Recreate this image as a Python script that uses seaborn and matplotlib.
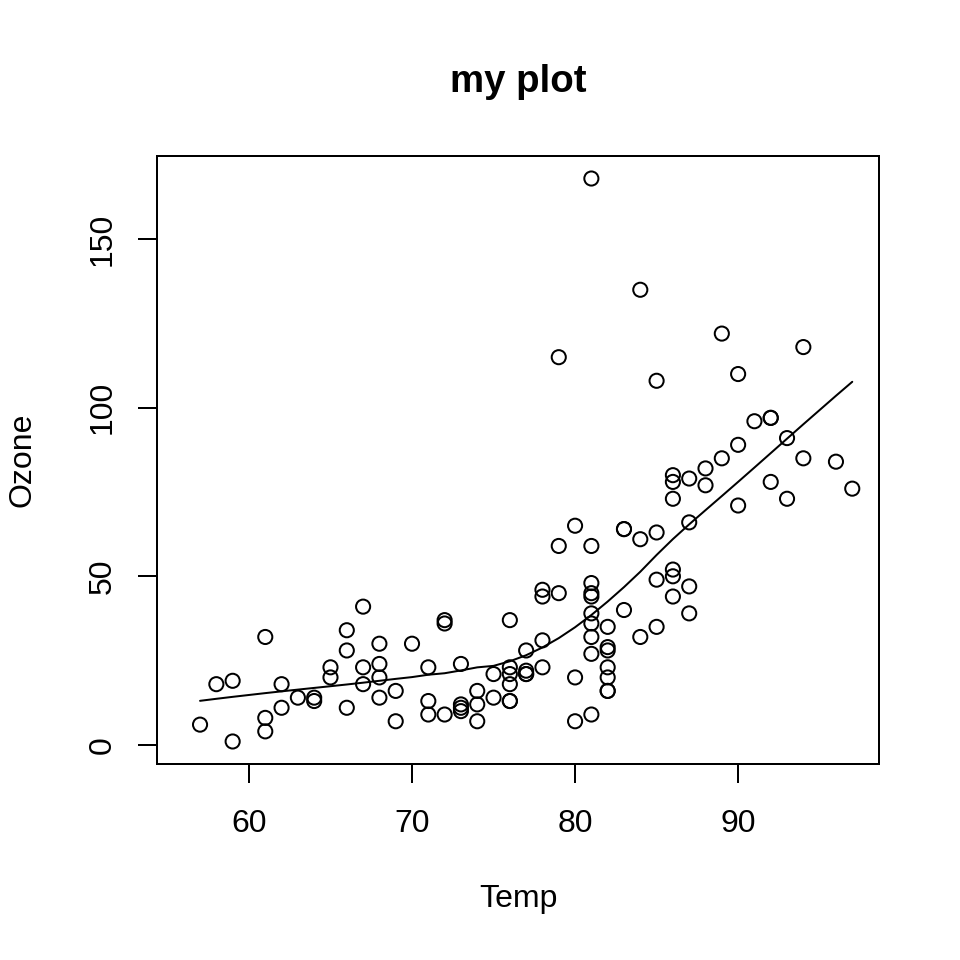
import numpy as np
import pandas as pd
import matplotlib
matplotlib.use("Agg")
import matplotlib.pyplot as plt
import seaborn as sns

# airquality (rows with non-missing Ozone)
temp = [67, 72, 74, 62, 66, 65, 59, 61, 74, 69, 66, 68, 58, 64, 66, 57, 68, 62, 59, 73,
        61, 61, 67, 81, 79, 76, 82, 90, 87, 82, 77, 72, 65, 73, 76, 84, 85, 81, 83, 83,
        88, 92, 92, 89, 73, 81, 80, 81, 82, 84, 87, 85, 74, 86, 85, 82, 86, 88, 86, 83,
        81, 81, 81, 82, 86, 85, 87, 89, 90, 90, 86, 82, 80, 77, 79, 76, 78, 78, 77, 72,
        79, 81, 86, 97, 94, 96, 94, 91, 92, 93, 93, 87, 84, 80, 78, 75, 73, 81, 76, 77,
        71, 71, 78, 67, 76, 68, 82, 64, 71, 81, 69, 63, 70, 75, 76, 68]
ozone = [41, 36, 12, 18, 28, 23, 19, 8, 7, 16, 11, 14, 18, 14, 34, 6, 30, 11, 1, 11,
         4, 32, 23, 45, 115, 37, 29, 71, 39, 23, 21, 37, 20, 12, 13, 135, 49, 32, 64, 40,
         77, 97, 97, 85, 10, 27, 7, 48, 35, 61, 79, 63, 16, 80, 108, 20, 52, 82, 50, 64,
         59, 39, 9, 16, 78, 35, 66, 122, 89, 110, 44, 28, 65, 22, 59, 23, 31, 44, 21, 9,
         45, 168, 73, 76, 118, 84, 85, 96, 78, 73, 91, 47, 32, 20, 23, 21, 24, 44, 21, 28,
         9, 13, 46, 18, 13, 24, 16, 13, 23, 36, 7, 14, 30, 14, 18, 20]
# full Temp column range (incl. rows with missing Ozone) sets the x range in R
temp_all_range = [56, 97]
x_ticks = [60, 70, 80, 90]
y_ticks = [0, 50, 100, 150]


def lowess_r(x, y, f=2/3, iters=3):
    """R's clowess smoother."""
    o = np.argsort(x, kind="stable")
    x = np.asarray(x, float)[o]
    y = np.asarray(y, float)[o]
    n = len(x)
    delta = 0.01 * (x[-1] - x[0])
    ns = max(2, min(n, int(f * n + 1e-7)))
    ys = np.zeros(n)
    rw = np.ones(n)
    rng = x[-1] - x[0]

    def lowest(xs, nleft, nright, userw):
        h = max(xs - x[nleft], x[nright] - xs)
        h9, h1 = 0.999 * h, 0.001 * h
        w = np.zeros(n)
        a = 0.0
        j = nleft
        while j < n:
            r = abs(x[j] - xs)
            if r <= h9:
                w[j] = 1.0 if r <= h1 else (1 - (r / h) ** 3) ** 3
                if userw:
                    w[j] *= rw[j]
                a += w[j]
            elif x[j] > xs:
                break
            j += 1
        nrt = j - 1
        if a <= 0:
            return None
        sl = slice(nleft, nrt + 1)
        ww = w[sl] / a
        if h > 0:
            aa = np.sum(ww * x[sl])
            b = xs - aa
            c = np.sum(ww * (x[sl] - aa) ** 2)
            if np.sqrt(c) > 0.001 * rng:
                b /= c
                ww = ww * (b * (x[sl] - aa) + 1)
        return np.sum(ww * y[sl])

    it = 1
    while it <= iters + 1:
        nleft, nright, last, i = 0, ns - 1, -1, 0
        while True:
            if nright < n - 1:
                d1 = x[i] - x[nleft]
                d2 = x[nright + 1] - x[i]
                if d1 > d2:
                    nleft += 1
                    nright += 1
                    continue
            v = lowest(x[i], nleft, nright, it > 1)
            ys[i] = y[i] if v is None else v
            if last < i - 1:
                denom = x[i] - x[last]
                for j in range(last + 1, i):
                    al = (x[j] - x[last]) / denom
                    ys[j] = al * ys[i] + (1 - al) * ys[last]
            last = i
            cut = x[last] + delta
            i = last + 1
            while i < n:
                if x[i] > cut:
                    break
                if x[i] == x[last]:
                    ys[i] = ys[last]
                    last = i
                i += 1
            i = max(last + 1, i - 1)
            if last >= n - 1:
                break
        res = y - ys
        if it > iters:
            break
        ar = np.sort(np.abs(res))
        m1 = n // 2
        if n % 2 == 0:
            cmad = 3 * (ar[m1] + ar[m1 - 1])
        else:
            cmad = 6 * ar[m1]
        if cmad < 1e-7 * np.mean(np.abs(res)):
            break
        c9, c1 = 0.999 * cmad, 0.001 * cmad
        r = np.abs(res)
        rw = np.where(r <= c1, 1.0, np.where(r <= c9, (1 - (r / cmad) ** 2) ** 2, 0.0))
        it += 1
    return x, ys


lx, ly = lowess_r(temp, ozone)
df = pd.DataFrame({"Temp": temp, "Ozone": ozone})
smooth = pd.DataFrame({"Temp": lx, "Ozone": ly})

sns.set_theme(style="white")
plt.rcParams["font.family"] = ["Liberation Sans", "DejaVu Sans"]

W, H, DPI = 960, 960, 192
fig = plt.figure(figsize=(W / DPI, H / DPI), dpi=DPI)
ax = fig.add_axes([157 / W, 1 - 764 / H, (879 - 157) / W, (764 - 156) / H])

sns.scatterplot(data=df, x="Temp", y="Ozone", ax=ax, marker="o", s=28,
                facecolor="none", edgecolor="black", linewidth=0.75, legend=False)
sns.lineplot(data=smooth, x="Temp", y="Ozone", ax=ax, sort=False, estimator=None,
             color="black", linewidth=0.75, legend=False)

xr = temp_all_range[1] - temp_all_range[0]
ax.set_xlim(temp_all_range[0] - 0.04 * xr, temp_all_range[1] + 0.04 * xr)
yr = max(ozone) - min(ozone)
ax.set_ylim(min(ozone) - 0.04 * yr, max(ozone) + 0.04 * yr)
ax.set_xticks(x_ticks)
ax.set_yticks(y_ticks)
ax.set_xticklabels([str(t) for t in x_ticks])
ax.set_yticklabels([str(t) for t in y_ticks], rotation=90, va="center")

for sp in ax.spines.values():
    sp.set_visible(True)
    sp.set_color("black")
    sp.set_linewidth(0.75)
ax.tick_params(axis="both", which="major", bottom=True, left=True, top=False, right=False,
               direction="out", length=7.2, width=0.75, color="black",
               labelsize=12, labelcolor="black")
ax.tick_params(axis="x", pad=9.5)
ax.tick_params(axis="y", pad=7.5)
ax.grid(False)

ax.set_xlabel("Temp", fontsize=12, color="black", va="baseline")
ax.set_ylabel("Ozone", fontsize=12, color="black", va="center")
ax.xaxis.set_label_coords(0.5, (764 - 907) / 608)
ax.yaxis.set_label_coords((23 - 157) / 722, 0.5)
fig.text(518 / W, 1 - 92 / H, "my plot", ha="center", va="baseline",
         fontsize=14.4, fontweight="bold", color="black")

fig.patch.set_facecolor("white")
fig.savefig("out.png", dpi=DPI, facecolor="white")
